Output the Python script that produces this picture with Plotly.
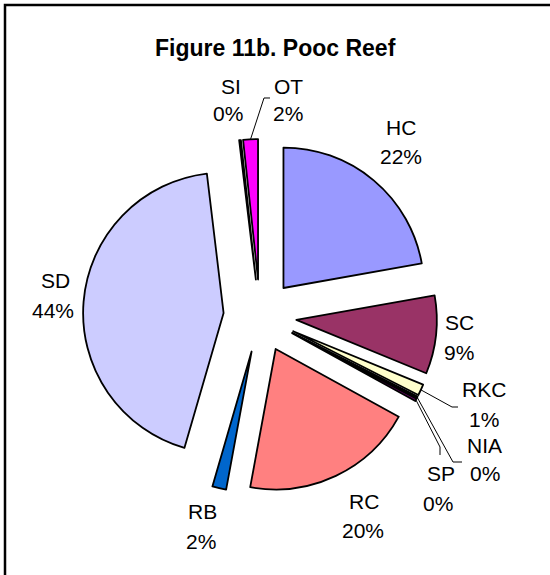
import math
import plotly.graph_objects as go

# Benthic cover categories, clockwise from 12 o'clock
categories = ["HC", "SC", "RKC", "NIA", "SP", "RC", "RB", "SD", "SI", "OT"]
cover = [22.2, 9.0, 1.3, 0.2, 0.3, 19.9, 1.6, 43.6, 0.2, 1.7]
colors = ["#9999FF", "#993366", "#FFFFCC", "#CCFFFF", "#660066",
          "#FF8080", "#0066CC", "#CCCCFF", "#000080", "#FF00FF"]

title_text = "Figure 11b. Pooc Reef"

# Canvas and pie geometry (pixels)
W, H = 550, 575
CX, CY = 260, 316          # pie centre
PULL = 0.26                # explode fraction of radius
EXTENT = 177               # radius * (1 + pull)

# Label anchors (pixels): (name line, percent line)
label_pos = {
    "HC": ((401, 127), (401, 156)),
    "SC": ((460, 322), (459, 352)),
    "RKC": ((484, 389), (484, 419)),
    "NIA": ((484, 445), (485, 473)),
    "SP": ((441, 473), (438, 503)),
    "RC": ((364, 501), (363, 530)),
    "RB": ((202, 511), (201, 541)),
    "SD": ((55, 280), (53, 310)),
    "SI": ((231, 86), (228, 113)),
    "OT": ((288, 86), (288, 113)),
}
# Leader line bends / ends (pixels) for the crowded small slices
leader_ends = {
    "OT": [(264, 98), (270, 98)],
    "RKC": [(452, 407), (458, 407)],
    "NIA": [(453, 462), (462, 462)],
    "SP": [(440, 447), (440, 455)],
}


def px(x):
    return x / W


def py(y):
    return 1 - y / H


fig = go.Figure(go.Pie(
    labels=categories,
    values=cover,
    sort=False,
    direction="clockwise",
    rotation=0,
    pull=[PULL] * len(cover),
    marker=dict(colors=colors, line=dict(color="black", width=1.8)),
    textinfo="none",
    hoverinfo="skip",
    showlegend=False,
    domain=dict(x=[px(CX - EXTENT), px(CX + EXTENT)],
                y=[py(CY + EXTENT), py(CY - EXTENT)]),
))

total = sum(cover)
label_font = dict(family="Liberation Sans, Arial, sans-serif", size=21, color="black")

annotations = []
shapes = []
cum = 0.0
for name, val in zip(categories, cover):
    pct = round(val / total * 100)
    (nx, ny), (qx, qy) = label_pos[name]
    annotations.append(dict(x=px(nx), y=py(ny), xref="paper", yref="paper",
                            text=name, showarrow=False, font=label_font,
                            xanchor="center", yanchor="middle"))
    annotations.append(dict(x=px(qx), y=py(qy), xref="paper", yref="paper",
                            text=f"{pct}%", showarrow=False, font=label_font,
                            xanchor="center", yanchor="middle"))
    mid = (cum + val / 2) / total * 2 * math.pi
    cum += val
    if name in leader_ends:
        sx = CX + EXTENT * math.sin(mid)
        sy = CY - EXTENT * math.cos(mid)
        pts = [(sx, sy)] + leader_ends[name]
        path = "M " + " L ".join(f"{px(x):.5f},{py(y):.5f}" for x, y in pts)
        shapes.append(dict(type="path", path=path, xref="paper", yref="paper",
                           line=dict(color="black", width=1)))

# Chart frame
shapes.append(dict(type="rect", xref="paper", yref="paper",
                   x0=px(5), x1=px(W + 10), y0=py(H + 10), y1=py(5),
                   line=dict(color="black", width=2.5), fillcolor="rgba(0,0,0,0)"))

annotations.append(dict(x=px(275), y=py(48), xref="paper", yref="paper",
                        text=f"<b>{title_text}</b>", showarrow=False,
                        font=dict(family="Liberation Sans, Arial, sans-serif",
                                  size=23, color="black"),
                        xanchor="center", yanchor="middle"))

fig.update_layout(
    width=W, height=H,
    margin=dict(l=0, r=0, t=0, b=0),
    paper_bgcolor="white",
    plot_bgcolor="white",
    annotations=annotations,
    shapes=shapes,
)

fig.write_html("out.html")
